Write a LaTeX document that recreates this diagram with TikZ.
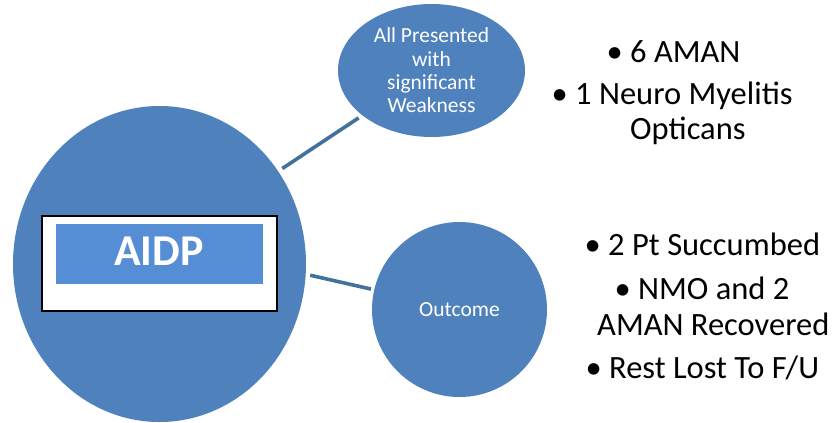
\documentclass[tikz,border=0pt]{standalone}
\usepackage{fontspec}
\setmainfont{Carlito}
\usetikzlibrary{shapes.geometric}
\definecolor{accent}{HTML}{4F81BD}
\definecolor{accentlight}{HTML}{558ED5}
\definecolor{linkblue}{HTML}{41719C}
\newcommand{\bulletbox}{\makebox[23.5pt][l]{•}}
\begin{document}
\begin{tikzpicture}[x=1pt,y=-1pt,
  blob/.style={ellipse, fill=accent, draw=none, inner sep=0pt, text=white},
  link/.style={draw=linkblue, line width=3.6pt},
  bubbletext/.style={font=\fontsize{21.5}{23.3}\selectfont},
  item/.style={font=\fontsize{32.5}{38}\selectfont, anchor=base west, inner sep=0pt, text=black}]
\useasboundingbox (0,0) rectangle (836,423);

% central circle with framed title
\node[blob, minimum width=293pt, minimum height=316pt] (hub) at (159.5,264) {};
\node[draw=black, line width=1.3pt, fill=white, minimum width=235pt, minimum height=95pt, inner sep=0pt] (frame) at (159.5,263.5) {};
\node[fill=accentlight, minimum width=207pt, minimum height=60pt, inner sep=0pt] (band) at (159.5,254) {};
\node[text=white, font=\fontsize{44}{50}\selectfont\bfseries, inner sep=0pt] (aidp) at (159,251) {AIDP};

% satellite bubbles
\node[blob, bubbletext, minimum width=187pt, minimum height=133pt, align=center] (weak) at (431.5,70.5)
  {All Presented\\with\\significant\\Weakness};
\node[blob, bubbletext, shape=circle, minimum size=175pt] (outcome) at (459.5,309.5) {Outcome};

% connectors
\draw[link, shorten <=4.8pt, shorten >=4.4pt] (hub.38.6) -- (weak.213.2);
\draw[link, shorten <=4.4pt, shorten >=3.1pt] (hub.-4.6) -- (outcome.167.6);

% findings
\node[item] (f1) at (606.5,62) {\bulletbox 6 AMAN};
\node[item] (f2) at (551.5,104) {\bulletbox 1 Neuro Myelitis};
\node[item] (f3) at (630,139) {Opticans};

% outcomes
\node[item] (o1) at (584.5,255) {\bulletbox 2 Pt Succumbed};
\node[item] (o2) at (614.5,299) {\bulletbox NMO and 2};
\node[item] (o3) at (597,335) {AMAN Recovered};
\node[item] (o4) at (585.5,378) {\bulletbox Rest Lost To F/U};
\end{tikzpicture}
\end{document}
